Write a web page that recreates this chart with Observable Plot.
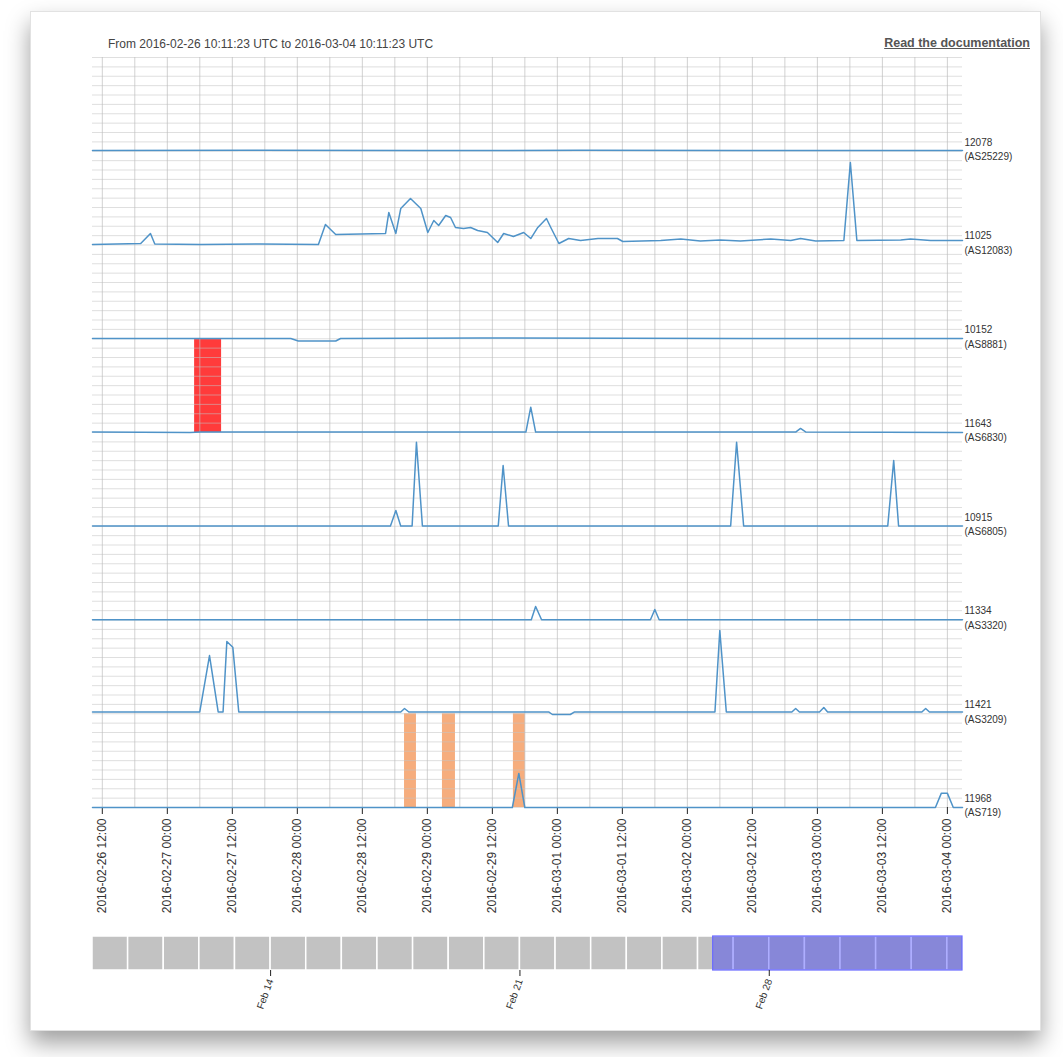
<!DOCTYPE html>
<html>
<head>
<meta charset="utf-8">
<script src="https://cdn.jsdelivr.net/npm/d3@7"></script>
<script src="https://cdn.jsdelivr.net/npm/@observablehq/plot@0.6"></script>
<style>
  html, body { margin: 0; padding: 0; background: #fff; }
  body { width: 1063px; height: 1057px; position: relative; overflow: hidden; font-family: "Liberation Sans", Arial, sans-serif; }
  #card { position: absolute; left: 30px; top: 11px; width: 1009px; height: 1018px; background: #fff; border: 1px solid #e2e2e2; box-shadow: 0 12px 22px rgba(0,0,0,0.38); }
  #title { position: absolute; left: 108px; top: 37px; font-size: 12px; color: #444; }
  #doc { position: absolute; right: 33px; top: 36px; font-size: 12.5px; font-weight: bold; color: #555; text-decoration: underline; }
  #main, #overview { position: absolute; left: 0; }
  #main { top: 0; }
  #overview { top: 925px; }
</style>
</head>
<body>
<div id="card"></div>
<div id="title">From 2016-02-26 10:11:23 UTC to 2016-03-04 10:11:23 UTC</div>
<div id="doc">Read the documentation</div>
<div id="main"></div>
<div id="overview"></div>
<script>
// ---- data (hours after 2016-02-26 10:11:23 UTC, height as fraction of a probe band) ----
const probeIds = ["12078", "11025", "10152", "11643", "10915", "11334", "11421", "11968"];
const probeAsns = ["AS25229", "AS12083", "AS8881", "AS6830", "AS6805", "AS3320", "AS3209", "AS719"];

const p12078 = [[0,0.008],[30,0.01],[60,0.008],[90,0.01],[120,0.008],[160.6,0.008]];
const p11025 = [[0,0.005],[8.9,0.016],[10.7,0.123],[11.5,0.01],[20,0.005],[31,0.01],[41.7,0.005],[43,0.219],[44.9,0.112],[54.1,0.123],[54.7,0.347],[56,0.123],[56.9,0.389],[58.7,0.496],[60.6,0.389],[61.9,0.133],[63,0.261],[63.9,0.208],[65.2,0.315],[66.1,0.293],[67,0.187],[68.5,0.176],[69.8,0.187],[71.1,0.155],[72.9,0.133],[74.8,0.027],[75.9,0.123],[77.7,0.091],[79.6,0.133],[80.9,0.069],[82.2,0.187],[83.8,0.283],[84.6,0.187],[86.1,0.016],[87.9,0.069],[90.1,0.048],[93.3,0.069],[96.9,0.069],[97.9,0.037],[104.9,0.048],[108.6,0.064],[112.2,0.043],[115.9,0.053],[119.6,0.043],[125.2,0.064],[128.9,0.048],[130.7,0.069],[133.5,0.043],[138.7,0.048],[139.9,0.88],[141.1,0.048],[149.2,0.053],[151,0.064],[154.7,0.048],[160.6,0.048]];
const p10152 = [[0,0.003],[36.6,0.003],[38,-0.024],[44.9,-0.024],[45.8,0.003],[71.6,0.008],[120,0.003],[160.6,0.003]];
const p11643 = [[0,0.005],[18,0.0],[20,0.005],[80,0.005],[80.9,0.27],[81.8,0.005],[129.8,0.005],[130.7,0.043],[131.7,0.005],[160.6,0.0]];
const p10915 = [[0,0.003],[55,0.003],[56,0.168],[56.9,0.003],[59,0.003],[59.8,0.896],[60.9,0.003],[74.9,0.003],[75.8,0.648],[76.8,0.003],[117.8,0.003],[118.9,0.896],[120.2,0.003],[146.8,0.003],[147.9,0.701],[148.8,0.003],[160.6,0.003]];
const p11334 = [[0,0.003],[81,0.003],[81.8,0.144],[82.9,0.003],[103,0.003],[103.8,0.112],[104.6,0.003],[160.6,0.003]];
const p11421 = [[0,0.019],[19.8,0.019],[21.6,0.621],[23.2,0.019],[24.1,0.019],[24.8,0.771],[25.9,0.71],[27,0.019],[56.9,0.019],[57.6,0.056],[58.4,0.019],[84.2,0.019],[84.9,-0.008],[88.2,-0.008],[89,0.019],[114.9,0.019],[115.8,0.888],[117,0.019],[129.1,0.019],[129.8,0.056],[130.5,0.019],[134.2,0.019],[135,0.067],[135.7,0.019],[153.1,0.019],[153.8,0.056],[154.5,0.019],[160.6,0.019]];
const p11968 = [[0,0.0],[77.5,0.0],[78.7,0.363],[79.8,0.0],[155.6,0.0],[156.7,0.153],[157.8,0.153],[158.9,0.0],[160.6,0.0]];
const probeSeries = [p12078, p11025, p10152, p11643, p10915, p11334, p11421, p11968];

// alerts: [probe index, start hour, end hour]
const redAlerts = [[3, 18.85, 23.83]];
const orangeAlerts = [[7, 57.6, 59.8], [7, 64.6, 67.0], [7, 77.7, 79.9]];

const windowStart = new Date("2016-02-26T10:11:23Z");
const windowShownHours = 160.6;
const overviewStart = new Date("2016-02-09T00:00:00Z");
const overviewEnd = new Date("2016-03-04T10:11:23Z");
const selectionStart = new Date("2016-02-26T10:11:23Z");
const selectionEnd = new Date("2016-03-04T10:11:23Z");

// ---- build ----
const H = 3600e3;
const atHour = h => new Date(windowStart.getTime() + h * H);
const windowEnd = atHour(windowShownHours);
const nBands = probeIds.length;
const base = i => nBands - 1 - i;

const rows = probeSeries.flatMap((s, i) => s.map(([h, v]) => ({id: probeIds[i], t: atHour(h), y: base(i) + v})));
const toRect = ([i, a, b]) => ({x1: atHour(a), x2: atHour(b), y1: base(i), y2: base(i) + 1});

const font = "'Liberation Sans', Arial, sans-serif";

const main = Plot.plot({
  width: 1063,
  height: 930,
  marginLeft: 92,
  marginRight: 101,
  marginTop: 57,
  marginBottom: 123,
  style: {background: "transparent", fontFamily: font, overflow: "visible", color: "#333"},
  x: {type: "utc", domain: [windowStart, windowEnd]},
  y: {domain: [0, nBands], axis: null},
  marks: [
    Plot.rect(redAlerts.map(toRect), {x1: "x1", x2: "x2", y1: "y1", y2: "y2", fill: "#ff3b3b"}),
    Plot.rect(orangeAlerts.map(toRect), {x1: "x1", x2: "x2", y1: "y1", y2: "y2", fill: "#f6ad7d"}),
    Plot.gridY(d3.range(0, nBands * 10 + 1).map(k => k / 10), {stroke: "#c4c4c4", strokeOpacity: 0.55}),
    Plot.gridX(d3.utcHour.every(6).range(windowStart, windowEnd), {stroke: "#bdbdbd", strokeOpacity: 0.7}),
    Plot.axisX({
      ticks: d3.utcHour.every(12).range(windowStart, windowEnd),
      tickFormat: d3.utcFormat("%Y-%m-%d %H:%M"),
      tickRotate: -90,
      tickSize: 7,
      tickPadding: 4,
      fontSize: 12,
      label: null,
      stroke: "#222"
    }),
    Plot.line(rows, {x: "t", y: "y", z: "id", stroke: "#4f93c8", strokeWidth: 1.5}),
    Plot.text(probeIds, {
      x: () => windowEnd,
      y: (d, i) => base(i),
      text: (d, i) => `${d}\n(${probeAsns[i]})`,
      textAnchor: "start",
      lineAnchor: "middle",
      lineHeight: 1.45,
      dx: 2,
      dy: -3,
      fontSize: 10,
      fill: "#333"
    })
  ]
});
document.getElementById("main").append(main);

const days = d3.utcDay.range(d3.utcDay.floor(overviewStart), overviewEnd);
const overview = Plot.plot({
  width: 1063,
  height: 100,
  marginLeft: 92,
  marginRight: 101,
  marginTop: 11,
  marginBottom: 55,
  style: {background: "transparent", fontFamily: font, overflow: "visible", color: "#333"},
  x: {type: "utc", domain: [overviewStart, overviewEnd]},
  y: {domain: [0, 1], axis: null},
  marks: [
    Plot.rect(days, {x1: d => d, x2: d => d3.utcDay.offset(d, 1), y1: 0, y2: 1, fill: "#c2c2c2", stroke: "#fff", strokeWidth: 1.5, clip: true}),
    Plot.rect([[selectionStart, selectionEnd]], {x1: d => d[0], x2: d => d[1], y1: 0, y2: 1, fill: "#2424ff", fillOpacity: 0.37, stroke: "#6a6aff", strokeWidth: 1.2}),
    Plot.axisX({
      ticks: d3.utcSunday.every(1).range(overviewStart, overviewEnd),
      tickFormat: d3.utcFormat("%b %d"),
      tickRotate: -70,
      tickSize: 6,
      tickPadding: 3,
      fontSize: 10,
      label: null,
      stroke: "#222"
    })
  ]
});
document.getElementById("overview").append(overview);
</script>
</body>
</html>
